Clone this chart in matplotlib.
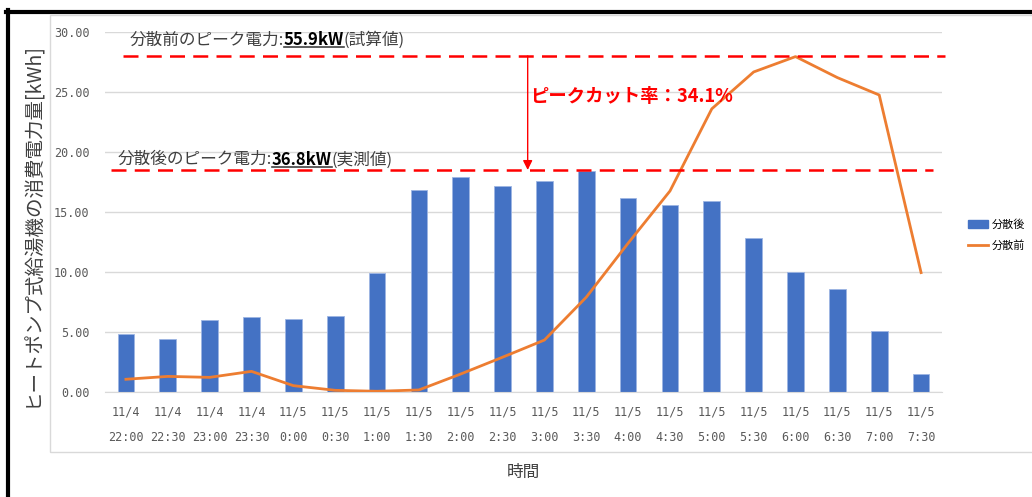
import numpy as np
import matplotlib
matplotlib.use("Agg")
import matplotlib.pyplot as plt
from matplotlib.lines import Line2D
from matplotlib.patches import Rectangle, Patch

plt.rcParams['font.family'] = ['Noto Sans CJK JP', 'DejaVu Sans']

# data
time_labels = ["11/4\n22:00", "11/4\n22:30", "11/4\n23:00", "11/4\n23:30",
               "11/5\n0:00", "11/5\n0:30", "11/5\n1:00", "11/5\n1:30",
               "11/5\n2:00", "11/5\n2:30", "11/5\n3:00", "11/5\n3:30",
               "11/5\n4:00", "11/5\n4:30", "11/5\n5:00", "11/5\n5:30",
               "11/5\n6:00", "11/5\n6:30", "11/5\n7:00", "11/5\n7:30"]
after_vals = [4.85, 4.40, 6.03, 6.28, 6.10, 6.36, 9.95, 16.85, 17.90, 17.15,
              17.55, 18.40, 16.15, 15.60, 15.90, 12.83, 10.03, 8.56, 5.11, 1.53]
before_vals = [1.06, 1.30, 1.22, 1.72, 0.53, 0.14, 0.06, 0.17, 1.50, 2.90,
               4.33, 7.90, 12.40, 16.75, 23.60, 26.67, 27.95, 26.20, 24.75, 9.95]
peak_before = 28.0
peak_after = 18.5
y_ticks = [0, 5, 10, 15, 20, 25, 30]

blue = '#4472C4'
orange = '#ED7D31'
red = '#FF0000'
gray_txt = '#595959'

fig = plt.figure(figsize=(10.32, 4.97), dpi=100)
W, H = 1032, 497

# chart area frame and black screen border
fig.add_artist(Rectangle((50 / W, (H - 452) / H), 1.2, (452 - 15) / H,
                         transform=fig.transFigure, fill=False,
                         edgecolor='#d9d9d9', lw=1))
fig.add_artist(Line2D([6 / W, 1], [1 - 11.5 / H, 1 - 11.5 / H],
                      transform=fig.transFigure, color='black', lw=3))
fig.add_artist(Line2D([8 / W, 8 / W], [0, 1 - 10 / H],
                      transform=fig.transFigure, color='black', lw=3))

ax = fig.add_axes([105 / W, (H - 392) / H, 837 / W, 360 / H])
x = np.arange(len(time_labels))

ax.bar(x, after_vals, width=0.4, color=blue, edgecolor='#9db5e3', lw=0.6,
       zorder=2)
ax.plot(x, before_vals, color=orange, lw=2, zorder=3)

ax.set_xlim(-0.5, len(x) - 0.5)
ax.set_ylim(0, 30)
ax.set_yticks(y_ticks)
ax.set_yticklabels(['%.2f' % v for v in y_ticks], family='DejaVu Sans Mono',
                   fontsize=8.5, color=gray_txt)
ax.set_xticks(x)
ax.set_xticklabels(time_labels, family='DejaVu Sans Mono', fontsize=8.5,
                   color=gray_txt, linespacing=2.2)
ax.tick_params(length=0)
ax.tick_params(axis='x', pad=10)
ax.tick_params(axis='y', pad=11)
ax.grid(axis='y', color='#d9d9d9', lw=1, zorder=0)
ax.set_axisbelow(True)
for s in ['top', 'right', 'left']:
    ax.spines[s].set_visible(False)
ax.spines['bottom'].set_color('#d9d9d9')

ax.set_ylabel('ヒートポンプ式給湯機の消費電力量[kWh]', fontsize=14,
              color='#404040')
ax.yaxis.set_label_coords(-0.074, 0.464)
ax.set_xlabel('時間', fontsize=12, color='#404040')
ax.xaxis.set_label_coords(0.5, -0.2)

# peak lines
ax.plot([-0.07, 19.57], [peak_before, peak_before], color=red, lw=1.8,
        dashes=(6, 3.3), clip_on=False, zorder=4)
ax.plot([-0.36, 19.28], [peak_after, peak_after], color=red, lw=1.8,
        dashes=(6, 3.3), clip_on=False, zorder=4)
ax.annotate('', xy=(9.6, peak_after), xytext=(9.6, peak_before),
            arrowprops=dict(arrowstyle='-|>', color=red, lw=1,
                            mutation_scale=14, shrinkA=0, shrinkB=0),
            zorder=5)
ax.text(9.65, 24.6, 'ピークカット率：34.1%', color=red, fontsize=13.2,
        fontweight='bold', va='center', ha='left', zorder=6)

# legend
handles = [Patch(facecolor=blue, edgecolor=blue),
           Line2D([0], [0], color=orange, lw=2)]
fig.legend(handles, ['分散後', '分散前'], loc='center left',
           bbox_to_anchor=(958 / W, 1 - 235 / H), frameon=False,
           fontsize=8, handlelength=1.8, handletextpad=0.3,
           labelspacing=0.9)


def chain_text(x0, y0, parts):
    fig.canvas.draw()
    r = fig.canvas.get_renderer()
    px, py = ax.transData.transform((x0, y0))
    for txt, bold, uline in parts:
        t = ax.text(px, py, txt, transform=None, fontsize=12,
                    fontweight='bold' if bold else 'normal',
                    color='black' if bold else '#404040',
                    va='center', ha='left', zorder=6)
        bb = t.get_window_extent(renderer=r)
        if uline:
            fig.add_artist(Line2D([bb.x0 / W, bb.x1 / W],
                                  [(bb.y0 + 2) / H, (bb.y0 + 2) / H],
                                  transform=fig.transFigure, color='#404040',
                                  lw=1.2))
        px = bb.x1


chain_text(0.08, 29.3, [('分散前のピーク電力:', False, False),
                        ('55.9kW', True, True),
                        ('(試算値)', False, False)])
chain_text(-0.2, 19.35, [('分散後のピーク電力:', False, False),
                         ('36.8kW', True, True),
                         ('(実測値)', False, False)])

fig.savefig('out.png', dpi=100)
